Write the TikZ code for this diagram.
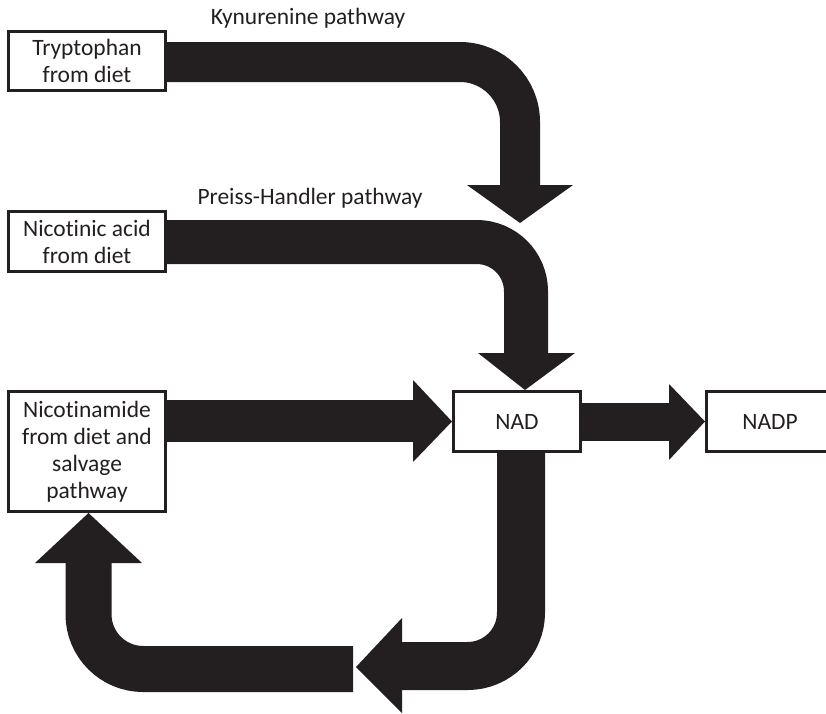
\documentclass[tikz,border=0pt]{standalone}
\usepackage{fontspec}
\setmainfont[Ligatures={NoCommon}]{Carlito}
\definecolor{ink}{HTML}{231F20}
\begin{document}
\begin{tikzpicture}[x=0.75pt,y=-0.75pt,
  box/.style={draw=ink, line width=2.25pt, fill=white, align=center, inner sep=0pt,
    font=\fontsize{17.6}{20.25}\selectfont, text=ink},
  lab/.style={inner sep=0pt, font=\fontsize{17.6}{20.25}\selectfont, text=ink},
  band/.style={draw=ink, line cap=butt, line join=miter},
  head/.style={fill=ink}]
\useasboundingbox (0,0) rectangle (826,714);
\clip (0,0) rectangle (826,714);
% nodes
\node[box, minimum width=117.75pt, minimum height=44.25pt] (tryp) at (87,61) {Tryptophan\\from diet};
\node[box, minimum width=117.75pt, minimum height=45pt] (nica) at (87,241.5) {Nicotinic acid\\from diet};
\node[box, minimum width=117.75pt, minimum height=90pt] (nam) at (87,451.5) {Nicotinamide\\from diet and\\salvage\\pathway};
\node[box, minimum width=95.25pt, minimum height=45pt] (nad) at (517,421.5) {NAD};
\node[box, minimum width=95.25pt, minimum height=45pt] (nadp) at (770,421.5) {NADP};
\node[lab] (kyn) at (308,18) {Kynurenine pathway};
\node[lab] (ph) at (310,198) {Preiss-Handler pathway};
% Kynurenine pathway arrow
\draw[band, line width=30pt, rounded corners=45pt] (tryp.east |- 0,62) -- (520,62) -- (520,186);
\fill[head] (467,185) -- (573,185) -- (520,223) -- cycle;
% Preiss-Handler pathway arrow
\draw[band, line width=33pt, rounded corners=37pt] (nica.east |- 0,242) -- (526,242) -- (526,354);
\fill[head] (478,353) -- (575,353) -- (525,390) -- cycle;
% Nicotinamide -> NAD
\fill[head] (nam.east |- 0,400) rectangle (414,442);
\fill[head] (413,380) -- (413,462) -- (nad.west) -- cycle;
% NAD -> NADP
\fill[head] (nad.east |- 0,403) rectangle (670,441);
\fill[head] (669,384) -- (669,460) -- (nadp.west) -- cycle;
% NAD -> down and left
\draw[band, line width=36pt, rounded corners=40pt] (nad.south -| 521,0) -- (521,666) -- (401,666);
\fill[head] (402,618) -- (402,713) -- (356,667) -- cycle;
% back up to Nicotinamide
\draw[band, line width=34.5pt, rounded corners=41pt] (353,669) -- (88.5,669) -- (88.5,562);
\fill[head] (35,563) -- (142,563) -- (nam.south -| 88.5,0) -- cycle;
\end{tikzpicture}
\end{document}
